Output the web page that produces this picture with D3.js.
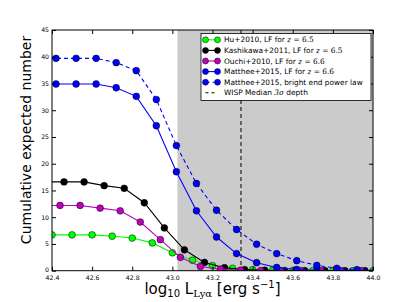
<!DOCTYPE html>
<html><head><meta charset="utf-8">
<script src="https://cdn.jsdelivr.net/npm/d3@7"></script>
<style>body{margin:0;background:#fff}svg{display:block}text{font-family:"DejaVu Sans",sans-serif}</style>
</head><body><div id="chart"></div>
<script>
// Data
const huX = [42.3,42.4,42.5,42.6,42.7,42.8,42.9,43.0,43.1,43.2,43.3,43.4,43.5,43.6,43.7,43.8,43.9,44.0];
const huY = [6.7,6.7,6.7,6.7,6.45,6.1,5.2,3.35,1.95,0.93,0.45,0.2,0.08,0.03,0.01,0,0,0];
const kashX = [42.36,42.46,42.56,42.66,42.76,42.86,42.96,43.06,43.16,43.26,43.36,43.46,43.56,43.66,43.76,43.86,43.96];
const kashY = [16.6,16.6,16.6,15.9,15.4,12.7,8.0,3.9,1.55,0.55,0.2,0.08,0.03,0.01,0,0,0];
const ouchiX = [42.34,42.44,42.54,42.64,42.74,42.84,42.94,43.04,43.14,43.24,43.34,43.44,43.54,43.64,43.74,43.84,43.94];
const ouchiY = [12.2,12.2,12.2,11.7,11.2,9.1,5.8,2.5,0.8,0.27,0.09,0.03,0.01,0,0,0,0];
const mattX = [42.32,42.42,42.52,42.62,42.72,42.82,42.92,43.02,43.12,43.22,43.32,43.42,43.52,43.62,43.72,43.82,43.92,44.02];
const mattLF = [34.9,34.9,34.9,34.9,34.2,32.6,27.1,18.5,11.2,6.3,3.2,1.5,0.6,0.22,0.08,0.03,0.01,0];
const mattPL = [39.7,39.7,39.7,39.7,38.9,37.4,32.0,23.4,16.3,11.3,7.7,4.95,3.2,1.87,1.0,0.45,0.2,0.08];
const xTicks = [42.4,42.6,42.8,43.0,43.2,43.4,43.6,43.8,44.0];
const yTicks = [0,5,10,15,20,25,30,35,40,45];
const shadeStart = 43.025, wispDepth = 43.342;
const legendLabels = ["Hu+2010, LF for ", "Kashikawa+2011, LF for ", "Ouchi+2010, LF for ", "Matthee+2015, LF for ", "Matthee+2015, bright end power law", "WISP Median 3σ depth"];
const legendZ = ["6.5","6.5","6.6","6.6",null,null];

const W=415,H=302, L=52, R=373, T=30, B=270.7;
const svg=d3.select("#chart").append("svg").attr("width",W).attr("height",H);
const x=d3.scaleLinear().domain([42.4,44.0]).range([L,R]);
const y=d3.scaleLinear().domain([0,45]).range([B,T]);

svg.append("defs").append("clipPath").attr("id","clip").append("rect")
  .attr("x",L).attr("y",T).attr("width",R-L).attr("height",B-T);

// shaded region
svg.append("rect").attr("x",x(shadeStart)).attr("y",T).attr("width",x(44.0)-x(shadeStart)).attr("height",B-T).attr("fill","#cbcbcb");

const g=svg.append("g").attr("clip-path","url(#clip)");
// WISP line
g.append("line").attr("x1",x(wispDepth)).attr("x2",x(wispDepth)).attr("y1",T).attr("y2",B)
  .attr("stroke","#000").attr("stroke-width",1).attr("stroke-dasharray","4,3");

const series=[
 {xs:huX,ys:huY,c:"#00ff00",dash:null},
 {xs:kashX,ys:kashY,c:"#000000",dash:null},
 {xs:ouchiX,ys:ouchiY,c:"#bf00bf",dash:null},
 {xs:mattX,ys:mattLF,c:"#0000ff",dash:null},
 {xs:mattX,ys:mattPL,c:"#0000ff",dash:"4,3"}
];
const line=d3.line().x(d=>x(d[0])).y(d=>y(d[1]));
series.forEach(s=>{
  const pts=s.xs.map((v,i)=>[v,s.ys[i]]);
  g.append("path").attr("d",line(pts)).attr("fill","none").attr("stroke",s.c).attr("stroke-width",1.1)
    .attr("stroke-dasharray",s.dash);
  g.selectAll(null).data(pts).enter().append("circle").attr("cx",d=>x(d[0])).attr("cy",d=>y(d[1]))
    .attr("r",3.4).attr("fill",s.c).attr("stroke","#000").attr("stroke-width",0.5);
});

// axes frame
svg.append("rect").attr("x",L).attr("y",T).attr("width",R-L).attr("height",B-T).attr("fill","none").attr("stroke","#000").attr("stroke-width",1);
const tl=4;
const xa=d3.axisBottom(x).tickValues(xTicks).tickFormat(d3.format(".1f")).tickSizeInner(-tl).tickSizeOuter(0).tickPadding(5);
const xg=svg.append("g").attr("transform",`translate(0,${B})`).call(xa);
const xt=svg.append("g").attr("transform",`translate(0,${T})`).call(d3.axisTop(x).tickValues(xTicks).tickSizeInner(-tl).tickSizeOuter(0).tickFormat(""));
const ya=d3.axisLeft(y).tickValues(yTicks).tickFormat(d3.format("d")).tickSizeInner(-tl).tickSizeOuter(0).tickPadding(3);
const yg=svg.append("g").attr("transform",`translate(${L},0)`).call(ya);
const yr=svg.append("g").attr("transform",`translate(${R},0)`).call(d3.axisRight(y).tickValues(yTicks).tickSizeInner(-tl).tickSizeOuter(0).tickFormat(""));
[xg,xt,yg,yr].forEach(a=>{a.select(".domain").remove();a.selectAll("line").attr("stroke","#000");a.selectAll("text").attr("font-size",6.2).attr("fill","#000").attr("font-family","DejaVu Sans");});
yg.selectAll(".tick").filter(d=>d===0).select("text").attr("dy","0.1em");

// legend
const lg=svg.append("g");
lg.append("rect").attr("x",201).attr("y",33.5).attr("width",170).attr("height",67).attr("fill","#fff").attr("stroke","#000").attr("stroke-width",0.8);
const legSeries=[series[0],series[1],series[2],series[3],series[4],{c:"#000",dash:"3,3",noMarker:true}];
legSeries.forEach((s,i)=>{
  const yy=39.8+i*10.6;
  lg.append("line").attr("x1",205.5).attr("x2",217.5).attr("y1",yy).attr("y2",yy).attr("stroke",s.c).attr("stroke-width",1.1).attr("stroke-dasharray",s.dash);
  if(!s.noMarker){[205.5,217.5].forEach(cx=>lg.append("circle").attr("cx",cx).attr("cy",yy).attr("r",3).attr("fill",s.c).attr("stroke","#000").attr("stroke-width",0.5));}
  const t=lg.append("text").attr("x",224).attr("y",yy+2.6).attr("font-size",7.4).attr("fill","#000");
  if(i===5){t.append("tspan").text("WISP Median ");t.append("tspan").attr("font-family","DejaVu Serif").attr("font-style","italic").text("3σ");t.append("tspan").text(" depth");}
  else{
    t.append("tspan").text(legendLabels[i]);
    if(legendZ[i]){t.append("tspan").attr("font-family","DejaVu Serif").attr("font-style","italic").text("z");
      t.append("tspan").attr("font-family","DejaVu Serif").text(" = "+legendZ[i]);}
  }
});

// axis labels
svg.append("text").attr("transform",`translate(31,140) rotate(-90)`).attr("text-anchor","middle").attr("font-size",14).attr("fill","#000").text("Cumulative expected number");
const xl=svg.append("text").attr("x",(L+R)/2).attr("y",294).attr("text-anchor","middle").attr("font-size",15).attr("fill","#000");
xl.append("tspan").text("log");
xl.append("tspan").attr("font-size",10).attr("dy",3).text("10");
xl.append("tspan").attr("dy",-3).text(" L");
xl.append("tspan").attr("font-size",10).attr("dy",3).attr("font-family","DejaVu Serif").text("Lyα");
xl.append("tspan").attr("dy",-3).text(" [erg s");
xl.append("tspan").attr("font-size",10).attr("dy",-6).text("−1");
xl.append("tspan").attr("dy",6).text("]");
</script></body></html>
